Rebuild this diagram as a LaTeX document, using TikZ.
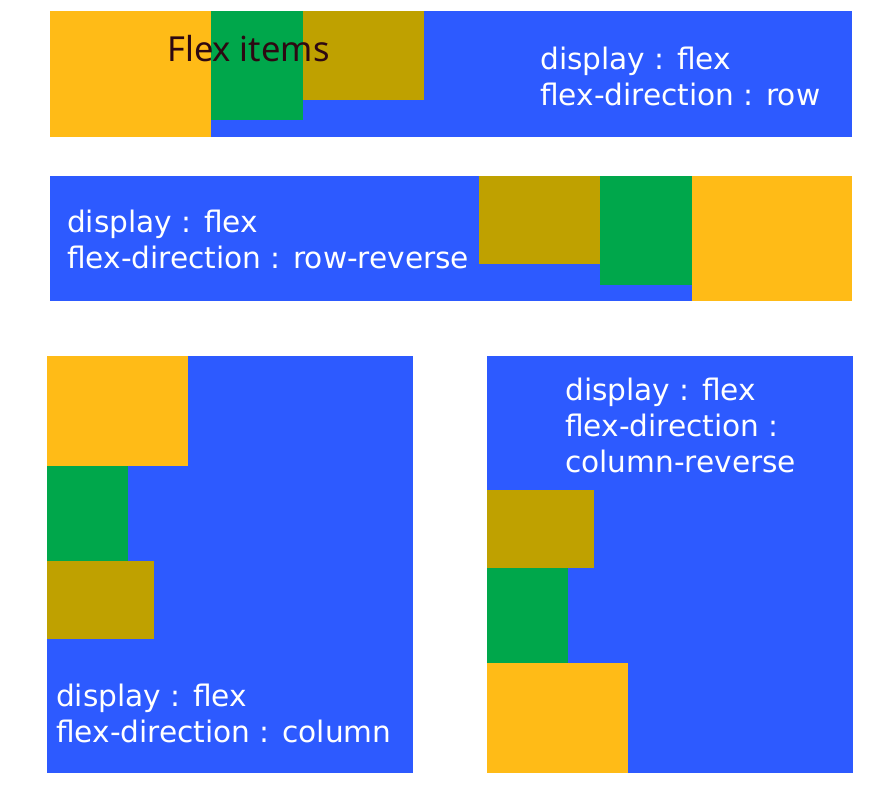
\documentclass[tikz,border=0pt]{standalone}
\usepackage{fontspec}
\setmainfont{DejaVu Sans}
\newfontfamily\itemfont{Noto Sans}
\definecolor{cblue}{RGB}{45,90,255}
\definecolor{cyellow}{RGB}{255,187,23}
\definecolor{cgreen}{RGB}{0,167,75}
\definecolor{colive}{RGB}{191,161,0}
\definecolor{cdark}{RGB}{45,8,18}
\begin{document}
\begin{tikzpicture}[x=1pt,y=-1pt,
  lbl/.style={anchor=base west,inner sep=0pt,text=white,font=\fontsize{29.6}{35}\selectfont},
  itemlbl/.style={anchor=base west,inner sep=0pt,text=cdark,font=\itemfont\fontsize{34.5}{40}\selectfont},
  panel/.style={fill=cblue},
  yel/.style={fill=cyellow},
  grn/.style={fill=cgreen},
  olv/.style={fill=colive}]
\useasboundingbox (0,0) rectangle (885,800);
% panel 1: row
\fill[panel] (50,11) rectangle (852,137);
\fill[yel] (50,11) rectangle (211,137);
\fill[grn] (211,11) rectangle (303,120);
\fill[olv] (303,11) rectangle (424,100);
\node[itemlbl] (fi) at (167,61) {Flex items};
\node[lbl] (a1) at (540,70) {display : flex};
\node[lbl] (a2) at (540,105) {flex-direction : row};
% panel 2: row-reverse
\fill[panel] (50,176) rectangle (852,301);
\fill[olv] (479,176) rectangle (600,264);
\fill[grn] (600,176) rectangle (692,285);
\fill[yel] (692,176) rectangle (852,301);
\node[lbl] (b1) at (67,232) {display : flex};
\node[lbl] (b2) at (67,268) {flex-direction : row-reverse};
% panel 3: column
\fill[panel] (47,356) rectangle (413,773);
\fill[yel] (47,356) rectangle (188,466);
\fill[grn] (47,466) rectangle (128,561);
\fill[olv] (47,561) rectangle (154,639);
\node[lbl] (c1) at (56,706) {display : flex};
\node[lbl] (c2) at (56,742) {flex-direction : column};
% panel 4: column-reverse
\fill[panel] (487,356) rectangle (853,773);
\fill[olv] (487,490) rectangle (594,568);
\fill[grn] (487,568) rectangle (568,663);
\fill[yel] (487,663) rectangle (628,773);
\node[lbl] (d1) at (565,400) {display : flex};
\node[lbl] (d2) at (565,436) {flex-direction :};
\node[lbl] (d3) at (565,472) {column-reverse};
\end{tikzpicture}
\end{document}
